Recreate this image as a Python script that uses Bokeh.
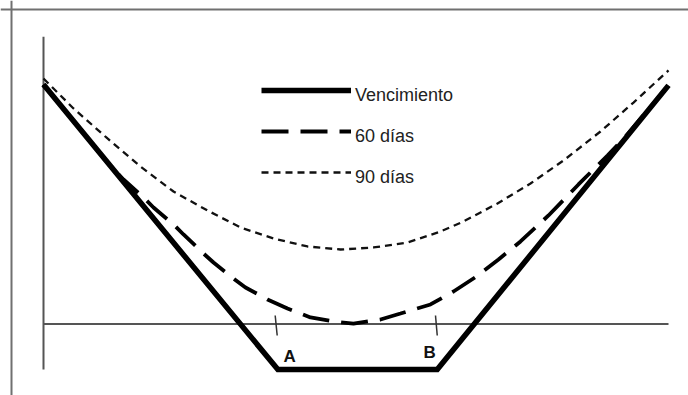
from bokeh.plotting import figure
from bokeh.models import Range1d, Legend, LegendItem, Span
from bokeh.embed import file_html
from bokeh.resources import INLINE
from bokeh.core.properties import value

# Underlying price (0-100) vs profit
venc_x = [0.0, 37.5, 63.0, 100.0]
venc_y = [31.5, -6.0, -6.0, 31.4]

d60_x = [0.0, 5.92, 10.72, 12.8, 16.0, 17.6, 20.8, 22.4, 25.6, 27.2, 30.4, 32.32,
         34.72, 35.84, 39.04, 42.72, 46.4, 49.6, 53.92, 57.12, 61.92, 65.6, 69.28,
         72.8, 76.32, 80.8, 85.6, 90.24, 93.12, 100.0]
d60_y = [31.51, 25.59, 20.78, 19.01, 16.64, 15.33, 13.09, 11.78, 9.28, 8.09, 5.99, 4.80,
         3.75, 3.22, 2.04, 0.86, 0.33, 0.05, 0.59, 1.38, 2.57, 4.28, 6.25,
         8.49, 10.86, 14.28, 18.36, 22.17, 24.67, 31.38]

d90_x = [0.0, 4.8, 10.24, 15.52, 20.8, 26.24, 31.52, 36.8, 42.24, 47.52, 52.8, 58.24,
         63.52, 67.2, 72.64, 77.92, 83.2, 89.12, 94.4, 100.0]
d90_y = [32.30, 28.36, 24.41, 20.72, 17.43, 14.93, 12.70, 11.25, 10.20, 9.80, 10.07, 10.72,
         12.17, 13.49, 15.86, 18.49, 21.51, 25.33, 29.14, 33.36]

# axes lines (extent)
axis_v_x = [0.0, 0.0]
axis_v_y = [-6.0, 37.8]
axis_h_x = [0.0, 100.0]
axis_h_y = [0.0, 0.0]

# strike marks A and B
tick_x0 = [37.07, 62.72]
tick_y0 = [1.12, 1.12]
tick_x1 = [37.39, 63.0]
tick_y1 = [-1.51, -1.51]

lab_x = [38.4, 60.8]
lab_y = [-4.31, -3.78]
lab_text = ["A", "B"]

legend_labels = ["Vencimiento", "60 días", "90 días"]

p = figure(width=688, height=395, output_backend="svg", toolbar_location=None,
           x_range=Range1d(-6.88, 103.2), y_range=Range1d(-9.408, 42.566),
           x_axis_location=None, y_axis_location=None, min_border=0)
p.grid.visible = False
p.outline_line_color = None
p.background_fill_color = "white"
p.border_fill_color = "white"

# frame
p.add_layout(Span(location=-5.12, dimension="height", line_color="#707070", line_width=2))
p.add_layout(Span(location=41.38, dimension="width", line_color="#707070", line_width=2))

p.line(axis_v_x, axis_v_y, line_color="#555555", line_width=2)
p.line(axis_h_x, axis_h_y, line_color="#555555", line_width=2)
p.segment(tick_x0, tick_y0, tick_x1, tick_y1, line_color="#333333", line_width=1.5)

r90 = p.line(d90_x, d90_y, line_color="#111111", line_width=2.3, line_dash="7 5")
r60 = p.line(d60_x, d60_y, line_color="black", line_width=3.8, line_dash="27 12")
rv = p.line(venc_x, venc_y, line_color="black", line_width=5.5, line_join="miter")

p.text(lab_x, lab_y, text=lab_text, text_font=value("Liberation Sans"),
       text_font_size="17px", text_font_style="bold", text_color="#111111",
       text_align="left", text_baseline="alphabetic")

renderers = [rv, r60, r90]
common = dict(glyph_height=20, label_height=31, spacing=10, padding=0, margin=0,
              border_line_color=None, background_fill_alpha=0,
              label_text_font="Liberation Sans", label_text_font_size="18px",
              label_text_color="#222222")

# legend samples (glyphs only)
legend_glyphs = Legend(items=[LegendItem(label="", renderers=[r]) for r in renderers],
                       location=(261, 208), glyph_width=90, label_standoff=0, **common)
# legend labels, set a little lower than the samples as in the original
legend_text = Legend(items=[LegendItem(label=lab, renderers=[r])
                            for lab, r in zip(legend_labels, renderers)],
                     location=(351, 202), glyph_width=0, label_standoff=4, **common)
p.add_layout(legend_glyphs)
p.add_layout(legend_text)

open("out.html", "w").write(file_html(p, INLINE))
